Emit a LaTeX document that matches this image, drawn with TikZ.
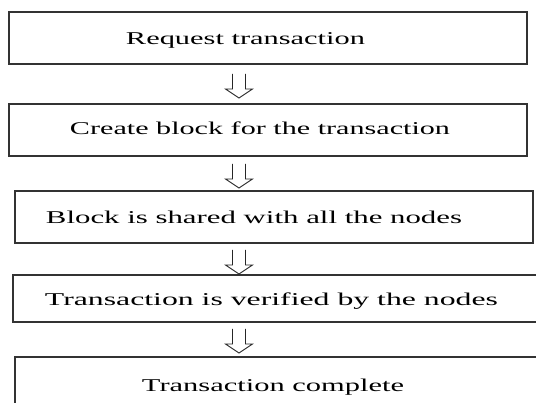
\documentclass[tikz,border=0pt]{standalone}
\usepackage{fontspec}
\setmainfont{Liberation Serif}
\usepackage{graphicx}
\newcommand{\wtext}[2]{\resizebox{#1pt}{\height}{#2}}
\newcommand{\hollowarr}[1]{%
  \draw[arrowline] ([shift={(-6.5pt,0pt)}]#1) -- ([shift={(-6.5pt,-15pt)}]#1) -- ([shift={(-13.5pt,-15pt)}]#1)
    -- ([shift={(0pt,-24pt)}]#1) -- ([shift={(13.5pt,-15pt)}]#1) -- ([shift={(6.5pt,-15pt)}]#1) -- ([shift={(6.5pt,0pt)}]#1);}
\tikzset{
  box/.style={draw=black!80, line width=1.1pt, inner sep=0pt, fill=none},
  lbl/.style={inner sep=0pt, anchor=base, font=\fontsize{18}{20}\selectfont, text=black},
  arrowline/.style={draw=black!85, line width=0.9pt, line join=miter}
}
\begin{document}
\begin{tikzpicture}[x=1pt,y=-1pt]
\clip (0,0) rectangle (536,403);
\fill[white] (0,0) rectangle (536,403);
% boxes
\node[box, minimum width=518pt, minimum height=52pt] (b1) at (268,38) {};
\node[box, minimum width=518pt, minimum height=52pt] (b2) at (268,130) {};
\node[box, minimum width=518pt, minimum height=52pt] (b3) at (274,217) {};
\node[box, minimum width=532pt, minimum height=47pt] (b4) at (279,298.5) {};
\node[box, minimum width=530pt, minimum height=63pt] (b5) at (280,388.5) {};
% labels
\node[lbl] (t1) at (245.5,45) {\wtext{239}{Request transaction}};
\node[lbl] (t2) at (260,135) {\wtext{380}{Create block for the transaction}};
\node[lbl] (t3) at (254,224) {\wtext{416}{Block is shared with all the nodes}};
\node[lbl] (t4) at (271.5,306) {\wtext{453}{Transaction is verified by the nodes}};
\node[lbl] (t5) at (273,392) {\wtext{262}{Transaction complete}};
% hollow arrows
\coordinate (a1) at (239,74);
\coordinate (a2) at (239,164);
\coordinate (a3) at (239,250);
\coordinate (a4) at (239,329);
\hollowarr{a1}
\hollowarr{a2}
\hollowarr{a3}
\hollowarr{a4}
\end{tikzpicture}
\end{document}
